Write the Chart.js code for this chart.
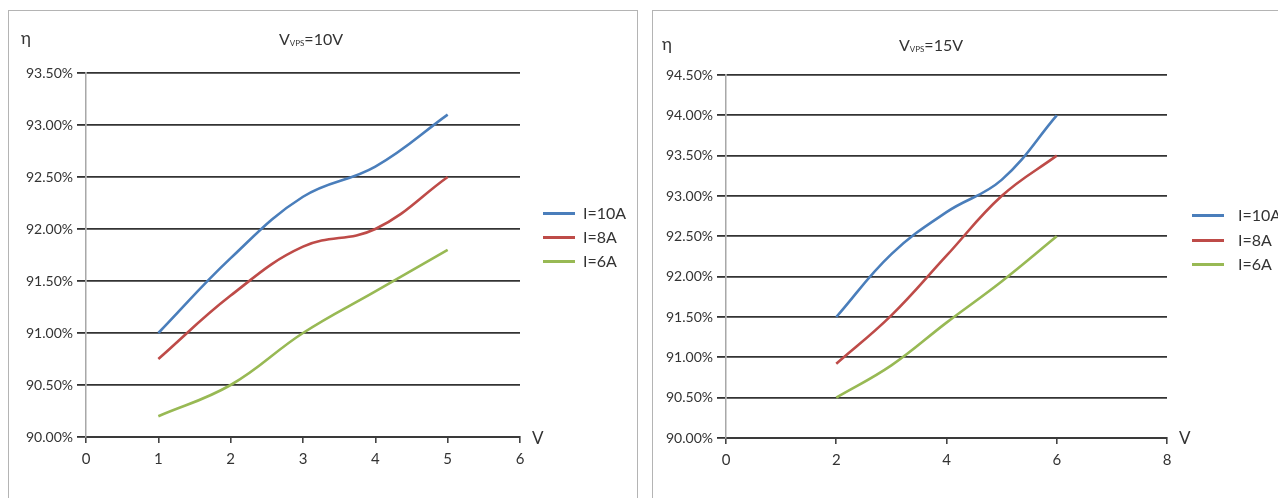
<!DOCTYPE html>
<html>
<head>
<meta charset="utf-8">
<script src="https://cdn.jsdelivr.net/npm/chart.js@4"></script>
<style>
  body { margin: 0; width: 1278px; height: 498px; overflow: hidden; background: #fff; font-family: Lato, "Open Sans", sans-serif; color: #333; position: relative; }
  .panel { position: absolute; top: 10px; height: 500px; border: 1px solid #b4b4b4; overflow: hidden; }
  .panel canvas { position: absolute; left: 0; top: 0; }
  .lbl { position: absolute; white-space: nowrap; line-height: 1; }
  .c { transform: translate(-50%, -50%); }
  .v { transform: translateY(-50%); }
  .title { font-size: 16px; }
  .title sub { font-size: 8px; vertical-align: -1px; }
  .leg { position: absolute; font-size: 16px; line-height: 1; }
  .leg div { position: absolute; white-space: nowrap; transform: translateY(-50%); }
  .leg i { display: inline-block; width: 32px; height: 3px; vertical-align: middle; position: relative; top: -1px; }
</style>
</head>
<body>

<div class="panel" style="left:8px;width:628px;"><canvas id="left" width="628" height="488"></canvas></div>
<div class="panel" style="left:652px;width:640px;"><canvas id="right" width="640" height="488"></canvas></div>

<span class="lbl v" style="left:21px;top:37px;font-size:17px;">η</span>
<span class="lbl c title" style="left:311px;top:39px;">V<sub>VPS</sub>=10V</span>
<span class="lbl v" style="left:532px;top:437px;font-size:17px;">V</span>

<span class="lbl v" style="left:662px;top:43px;font-size:17px;">η</span>
<span class="lbl c title" style="left:931px;top:45px;">V<sub>VPS</sub>=15V</span>
<span class="lbl v" style="left:1179px;top:437px;font-size:17px;">V</span>

<div class="leg" style="left:543px;top:0;">
  <div style="top:213px;"><i style="background:#4a7ebb;margin-right:8px"></i>I=10A</div>
  <div style="top:237px;"><i style="background:#be4b48;margin-right:8px"></i>I=8A</div>
  <div style="top:261px;"><i style="background:#98b954;margin-right:8px"></i>I=6A</div>
</div>
<div class="leg" style="left:1192px;top:0;">
  <div style="top:215px;"><i style="background:#4a7ebb;margin-right:14px"></i>I=10A</div>
  <div style="top:240px;"><i style="background:#be4b48;margin-right:14px"></i>I=8A</div>
  <div style="top:264px;"><i style="background:#98b954;margin-right:14px"></i>I=6A</div>
</div>

<script>
// V_VPS = 10V
const leftV = [1, 2, 3, 4, 5];
const left10A = [91.00, 91.72, 92.31, 92.60, 93.10];
const left8A = [90.75, 91.36, 91.83, 92.00, 92.50];
const left6A = [90.20, 90.50, 91.00, 91.40, 91.80];

// V_VPS = 15V
const rightV = [2, 3, 4, 5, 6];
const right10A = [91.50, 92.28, 92.80, 93.20, 94.00];
const right8A = [90.92, 91.52, 92.26, 93.00, 93.50];
const right6A = [90.50, 90.90, 91.43, 91.94, 92.50];

const seriesNames = ["I=10A", "I=8A", "I=6A"];
const seriesColors = ["#4a7ebb", "#be4b48", "#98b954"];

function toPoints(xs, ys) {
  return xs.map((x, i) => ({ x: x, y: ys[i] }));
}

function makeChart(id, xs, series, xMax, xStep, yMax, pad, axisW) {
  const ctx = document.getElementById(id).getContext("2d");
  return new Chart(ctx, {
    type: "scatter",
    data: {
      datasets: series.map((ys, i) => ({
        label: seriesNames[i],
        data: toPoints(xs, ys),
        showLine: true,
        borderColor: seriesColors[i],
        backgroundColor: seriesColors[i],
        borderWidth: 2.6,
        pointRadius: 0,
        tension: 0.4
      }))
    },
    options: {
      responsive: false,
      animation: false,
      layout: { padding: pad },
      plugins: { legend: { display: false }, tooltip: { enabled: false } },
      scales: {
        x: {
          type: "linear",
          min: 0, max: xMax,
          afterFit: s => { s.height = 40; },
          ticks: { stepSize: xStep, padding: 7, color: "#333", font: { family: "Lato", size: 15 } },
          grid: { drawOnChartArea: false, tickLength: 6, color: "#444", lineWidth: 1.6 },
          border: { color: "#3a3a3a", width: 2 }
        },
        y: {
          min: 90, max: yMax,
          afterFit: s => { s.width = axisW; },
          ticks: { stepSize: 0.5, padding: 4, color: "#333", font: { family: "Lato", size: 14 },
                   callback: v => v.toFixed(2) + "%" },
          grid: { color: "#333", lineWidth: 1.8, tickLength: 9 },
          border: { color: "#a8a8a8", width: 1.5 }
        }
      }
    }
  });
}

makeChart("left", leftV, [left10A, left8A, left6A], 6, 1, 93.5,
  { top: 62, right: 117, bottom: 22, left: 0 }, 77);
makeChart("right", rightV, [right10A, right8A, right6A], 8, 2, 94.5,
  { top: 64, right: 126, bottom: 21, left: 0 }, 73);
</script>
</body>
</html>
